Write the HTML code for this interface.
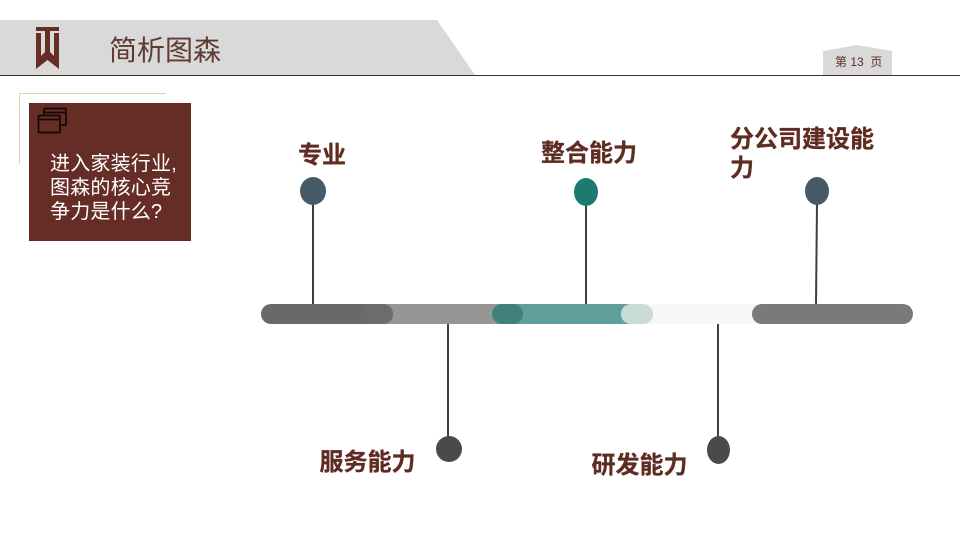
<!DOCTYPE html>
<html><head><meta charset="utf-8">
<style>
html,body{margin:0;padding:0;background:#fff}
#p{position:relative;width:960px;height:540px;overflow:hidden;background:#fff;font-family:"Liberation Sans","Noto Sans CJK SC","WenQuanYi Zen Hei",sans-serif}
svg{position:absolute;left:0;top:0}
.t{position:absolute;white-space:nowrap}
.h{font-weight:bold;font-size:24px;line-height:30px;color:#5f2c22;-webkit-text-stroke:.3px #5f2c22}
</style></head><body><div id="p">
<svg width="960" height="540" viewBox="0 0 960 540">
<polygon points="0,20 437,20 475,75 0,75" fill="#d9d9d9"/>
<polygon points="823,51 857,45 892,51 892,75 823,75" fill="#d9d9d9"/>
<rect x="0" y="75" width="960" height="1" fill="#4a2a24"/>
<polygon points="36,27 59,27 59,69 47.500,60 36,69" fill="#662d24"/>
<polygon points="36,31 45,31 45,33 36,33" fill="#d9d9d9"/>
<polygon points="50,31 59,31 59,33 50,33" fill="#d9d9d9"/>
<polygon points="41,33 45,33 45,52 41,56" fill="#d9d9d9"/>
<polygon points="50,33 54,33 54,56 50,52" fill="#d9d9d9"/>
<rect x="19" y="93" width="147" height="1" fill="#ddd5b0"/>
<rect x="19" y="93" width="1" height="71" fill="#ddd5b0"/>
<rect x="29" y="103" width="162" height="138" fill="#662d26"/>
<g fill="none" stroke="#140706" stroke-width="1.7">
<path d="M44 115V109.500Q44 108.500 45 108.500H65Q66 108.500 66 109.500V124Q66 125 65 125H60"/>
<rect x="38.500" y="115.500" width="21.500" height="17" rx="1"/>
<path d="M39 119.500H60M44 112.500H66"/>
</g>
<rect x="375" y="304" width="130" height="20" fill="#969696"/>
<rect x="261" y="304" width="132" height="20" rx="10" fill="#696969"/>
<rect x="361" y="304" width="32" height="20" rx="10" fill="#6c6c6c"/>
<rect x="510" y="304" width="125" height="20" fill="#5fa19a"/>
<rect x="492" y="304" width="31" height="20" rx="10" fill="#40827a"/>
<rect x="640" y="304" width="125" height="20" fill="#f7f7f7"/>
<rect x="621" y="304" width="32" height="20" rx="10" fill="#c9dcd8"/>
<rect x="752" y="304" width="161" height="20" rx="10" fill="#7a7a7a"/>
<g stroke="#3f3f3f" stroke-width="2" fill="none">
<line x1="313" y1="204" x2="313" y2="304"/>
<line x1="586" y1="205" x2="586" y2="304"/>
<line x1="817" y1="204" x2="816" y2="304"/>
<line x1="448" y1="324" x2="448" y2="437"/>
<line x1="718" y1="324" x2="718" y2="437"/>
</g>
<ellipse cx="313" cy="191" rx="13" ry="14" fill="#465a67"/>
<ellipse cx="586" cy="192" rx="12" ry="14" fill="#1d7a70"/>
<ellipse cx="817" cy="191" rx="12" ry="14" fill="#465a67"/>
<ellipse cx="449" cy="449" rx="13" ry="13" fill="#4a4a4a"/>
<ellipse cx="718.500" cy="450" rx="11.500" ry="14" fill="#4a4a4a"/>
</svg>
<div class="t" style="left:109px;top:33px;font-size:28px;line-height:36px;color:#5f3a30">简析图森</div>
<div class="t" style="left:835px;top:54px;font-size:12px;line-height:16px;color:#5a2f20">第 13&nbsp; 页</div>
<div class="t" style="left:50px;top:152px;font-size:20px;line-height:24px;color:#fff;letter-spacing:.2px">进入家装行业,<br>图森的核心竞<br>争力是什么?</div>
<div class="t h" style="left:298px;top:141px">专业</div>
<div class="t h" style="left:541px;top:139px">整合能力</div>
<div class="t h" style="left:730px;top:125px;line-height:29px">分公司建设能<br>力</div>
<div class="t h" style="left:319.500px;top:448px">服务能力</div>
<div class="t h" style="left:591.500px;top:451px">研发能力</div>
</div></body></html>
